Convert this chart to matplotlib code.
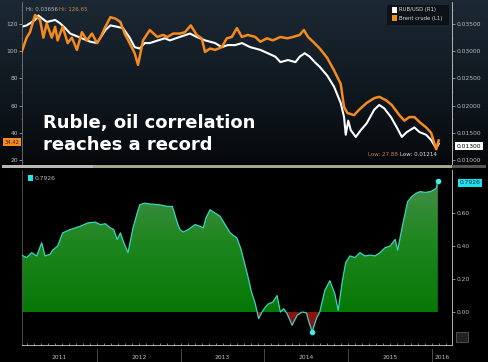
import matplotlib
matplotlib.use("Agg")
import matplotlib.pyplot as plt
import numpy as np
from matplotlib.colors import LinearSegmentedColormap
from matplotlib.patches import Rectangle
from matplotlib.path import Path

# dates as decimal years
brent_t = [2011.10, 2011.16, 2011.20, 2011.26, 2011.32, 2011.36, 2011.40, 2011.46, 2011.50, 2011.53,
           2011.59, 2011.65, 2011.70, 2011.76, 2011.82, 2011.88, 2011.94, 2012.00, 2012.04, 2012.10,
           2012.16, 2012.22, 2012.28, 2012.33, 2012.39, 2012.45, 2012.49, 2012.55, 2012.63, 2012.72,
           2012.79, 2012.84, 2012.91, 2012.99, 2013.05, 2013.12, 2013.19, 2013.25, 2013.29, 2013.35,
           2013.41, 2013.49, 2013.55, 2013.61, 2013.67, 2013.73, 2013.80, 2013.89, 2013.95, 2014.03,
           2014.10, 2014.19, 2014.27, 2014.34, 2014.42, 2014.47, 2014.52, 2014.58, 2014.66, 2014.75,
           2014.83, 2014.91, 2014.95, 2014.99, 2015.07, 2015.13, 2015.22, 2015.31, 2015.37, 2015.45,
           2015.52, 2015.61, 2015.67, 2015.73, 2015.79, 2015.85, 2015.93, 2015.99, 2016.05, 2016.08]
brent = [99.4, 110, 114, 126.65, 123, 110, 120.5, 110, 118, 108,
         118, 106, 110, 101, 114, 108, 113, 106, 110, 118,
         125, 124, 121.5, 113, 106, 98.5, 90, 108, 115.6, 110.5,
         112, 110.5, 113, 113, 114, 119, 112, 109.5, 99.5, 102,
         101, 103, 109.5, 110.5, 117, 110.5, 112, 110.5, 107, 109.5,
         108, 110.5, 109.5, 110.5, 112, 115.6, 110.5, 107, 102, 95,
         86, 76, 59, 54.6, 53, 57, 62, 65.5, 66.5, 64,
         60.5, 53, 49, 51.6, 51.6, 48, 44, 40, 27.88, 34.42]

rub_t = [2011.10, 2011.16, 2011.26, 2011.30, 2011.40, 2011.50, 2011.56, 2011.62, 2011.68, 2011.80,
         2011.92, 2012.00, 2012.10, 2012.16, 2012.24, 2012.31, 2012.39, 2012.45, 2012.51, 2012.57,
         2012.63, 2012.73, 2012.81, 2012.87, 2012.99, 2013.11, 2013.19, 2013.29, 2013.41, 2013.49,
         2013.56, 2013.65, 2013.73, 2013.83, 2013.95, 2014.04, 2014.13, 2014.19, 2014.28, 2014.37,
         2014.42, 2014.48, 2014.54, 2014.60, 2014.66, 2014.75, 2014.83, 2014.91, 2014.95, 2014.97,
         2015.00, 2015.03, 2015.09, 2015.15, 2015.22, 2015.31, 2015.37, 2015.43, 2015.51, 2015.58,
         2015.64, 2015.70, 2015.79, 2015.85, 2015.93, 2015.99, 2016.05, 2016.08]
rub = [0.0345, 0.03475, 0.03575, 0.03656, 0.03538, 0.03575, 0.03513, 0.03425, 0.03325, 0.0325,
       0.03175, 0.0315, 0.0339, 0.03475, 0.0345, 0.03425, 0.0325, 0.03075, 0.0305, 0.0315,
       0.0315, 0.032, 0.03238, 0.032, 0.03263, 0.03325, 0.03263, 0.032, 0.0315, 0.03075,
       0.03113, 0.03113, 0.0315, 0.03075, 0.03025, 0.02963, 0.029, 0.028, 0.02838, 0.028,
       0.029, 0.02963, 0.029, 0.028, 0.02713, 0.0255, 0.0235, 0.0205, 0.0179, 0.01465,
       0.01725, 0.0155, 0.01425, 0.0155, 0.01675, 0.01925, 0.02013, 0.0195, 0.0179, 0.016,
       0.01425, 0.01515, 0.016, 0.01515, 0.01465, 0.01368, 0.01214, 0.0130]

corr_t = [2011.10, 2011.16, 2011.22, 2011.28, 2011.34, 2011.38, 2011.44, 2011.47, 2011.53, 2011.59,
          2011.68, 2011.80, 2011.89, 2011.98, 2012.04, 2012.10, 2012.16, 2012.20, 2012.24, 2012.28,
          2012.32, 2012.37, 2012.43, 2012.48, 2012.51, 2012.57, 2012.63, 2012.75, 2012.84, 2012.90,
          2012.96, 2012.99, 2013.03, 2013.09, 2013.17, 2013.23, 2013.27, 2013.30, 2013.35, 2013.41,
          2013.47, 2013.53, 2013.59, 2013.64, 2013.67, 2013.72, 2013.75, 2013.80, 2013.84, 2013.89,
          2013.93, 2013.97, 2014.01, 2014.05, 2014.10, 2014.15, 2014.19, 2014.23, 2014.27, 2014.33,
          2014.39, 2014.45, 2014.50, 2014.53, 2014.57, 2014.62, 2014.66, 2014.72, 2014.78, 2014.84,
          2014.88, 2014.93, 2014.97, 2015.02, 2015.08, 2015.14, 2015.20, 2015.26, 2015.32, 2015.38,
          2015.44, 2015.50, 2015.56, 2015.59, 2015.65, 2015.71, 2015.76, 2015.81, 2015.86, 2015.92,
          2015.98, 2016.02, 2016.05, 2016.07]
corr = [0.345, 0.33, 0.36, 0.34, 0.42, 0.34, 0.35, 0.375, 0.40, 0.48,
        0.50, 0.52, 0.54, 0.545, 0.53, 0.535, 0.51, 0.50, 0.44, 0.48,
        0.42, 0.36, 0.51, 0.60, 0.65, 0.66, 0.655, 0.65, 0.64, 0.64,
        0.54, 0.50, 0.485, 0.50, 0.53, 0.52, 0.51, 0.57, 0.62, 0.60,
        0.58, 0.53, 0.48, 0.46, 0.45, 0.38, 0.32, 0.22, 0.13, 0.05,
        -0.04, 0.00, 0.03, 0.05, 0.06, 0.10, 0.00, 0.02, -0.01, -0.08,
        -0.02, 0.00, -0.005, -0.06, -0.12, -0.04, 0.00, 0.13, 0.19, 0.11,
        0.01, 0.19, 0.30, 0.34, 0.33, 0.36, 0.34, 0.345, 0.34, 0.36,
        0.39, 0.40, 0.44, 0.375, 0.53, 0.67, 0.70, 0.72, 0.73, 0.725,
        0.73, 0.74, 0.75, 0.7926]

years = [2011, 2012, 2013, 2014, 2015, 2016]

W, H = 488, 362
x0, x1 = 2011.1045, 2016.239
grey = "#bdbdbd"
orange = "#f58a1f"
teal = "#3ad6c0"

fig = plt.figure(figsize=(W / 100, H / 100), dpi=100, facecolor="black")

# top panel gradient background
bg = fig.add_axes([0, 1 - 164 / H, 1, 164 / H], zorder=-1)
bg_cmap = LinearSegmentedColormap.from_list("bg", ["#06090c", "#111a22", "#1c2833"])
bg.imshow(np.linspace(0, 1, 200).reshape(-1, 1), cmap=bg_cmap, origin="lower",
          aspect="auto", extent=[0, 1, 0, 1])
bg.axis("off")

# top panel: brent (left) and rub/usd (right)
ax1 = fig.add_axes([22 / W, 1 - 164 / H, 430 / W, 162 / H], facecolor="none")
axr = ax1.twinx()
axr.set_facecolor("none")
axr.plot(rub_t, rub, color="white", lw=1.5, zorder=2)
ax1.plot(brent_t, brent, color=orange, lw=1.8, zorder=3)
ax1.set_zorder(axr.get_zorder() + 1)
ax1.set_xlim(x0, x1)
ax1.set_ylim(17.1, 136.2)
axr.set_ylim(0.009275, 0.03905)
ax1.set_yticks([20, 40, 60, 80, 100, 120])
ax1.set_yticks(np.arange(30, 131, 20), minor=True)
axr.set_yticks([0.010, 0.015, 0.020, 0.025, 0.030, 0.035])
axr.set_yticks(np.arange(0.0125, 0.038, 0.005), minor=True)
axr.yaxis.set_major_formatter(matplotlib.ticker.FormatStrFormatter("%.5f"))
ax1.set_xticks([])
for a in (ax1, axr):
    a.tick_params(axis="y", which="major", labelsize=4.3, colors=grey, length=2, width=0.5, pad=1)
    a.tick_params(axis="y", which="minor", colors="#777777", length=1, width=0.4)
    for s in a.spines.values():
        s.set_visible(False)
ax1.spines["left"].set_visible(True)
ax1.spines["left"].set_color("#777777")
ax1.spines["left"].set_linewidth(0.6)
axr.spines["right"].set_visible(True)
axr.spines["right"].set_color("#cccccc")
axr.spines["right"].set_linewidth(0.6)

# annotations top
ax1.text(0.009, 0.951, "Hi: 0.03656", transform=ax1.transAxes, fontsize=4, color="#b8b8b8", va="center")
ax1.text(0.086, 0.951, "Hi: 126.65", transform=ax1.transAxes, fontsize=4, color="#c98a50", va="center")
ax1.text(0.874, 0.056, "Low: 27.88", transform=ax1.transAxes, fontsize=4, color="#d07a30",
         ha="right", va="center")
ax1.text(0.965, 0.056, "Low: 0.01214", transform=ax1.transAxes, fontsize=4, color="#e0e0e0",
         ha="right", va="center")
ax1.text(0.049, 0.222, "Ruble, oil correlation", transform=ax1.transAxes, fontsize=13,
         fontweight="bold", color="white", va="baseline")
ax1.text(0.049, 0.0864, "reaches a record", transform=ax1.transAxes, fontsize=13,
         fontweight="bold", color="white", va="baseline")

# legend box
ax1.add_patch(Rectangle((0.849, 0.858), 0.144, 0.123, transform=ax1.transAxes,
                        facecolor="#0c1218", edgecolor="none", zorder=4))
for yy, c, lab in [(0.951, "white", "RUB/USD (R1)"), (0.901, orange, "Brent crude (L1)")]:
    ax1.add_patch(Rectangle((0.860, yy - 0.018), 0.012, 0.036, transform=ax1.transAxes,
                            facecolor=c, edgecolor="none", zorder=5))
    ax1.text(0.877, yy, lab, transform=ax1.transAxes, fontsize=3.8, color="#dddddd",
             va="center", zorder=5)

# value tags
fig.text(12 / W, 1 - 142 / H, "34.42", fontsize=3.8, color="#3a1a00", ha="center", va="center",
         bbox=dict(boxstyle="square,pad=0.2", fc=orange, ec="none"))
fig.text(469 / W, 1 - 146 / H, "0.01300", fontsize=4.3, color="black", ha="center", va="center",
         bbox=dict(boxstyle="square,pad=0.3", fc="white", ec="none"))

# separator bar
fig.patches.append(Rectangle((2 / W, 1 - 168 / H), 450 / W, 3 / H, transform=fig.transFigure,
                             facecolor="#a6a68e", edgecolor="none"))
fig.patches.append(Rectangle((2 / W, 1 - 168 / H), 91 / W, 3 / H, transform=fig.transFigure,
                             facecolor="#b8b8b8", edgecolor="none"))
fig.patches.append(Rectangle((452 / W, 1 - 168 / H), 34 / W, 3 / H, transform=fig.transFigure,
                             facecolor="#555555", edgecolor="none"))

# bottom panel: correlation
ax2 = fig.add_axes([22 / W, 1 - 345 / H, 430 / W, 175 / H], facecolor="black")
ct = np.array(corr_t)
cv = np.array(corr)
green = ax2.fill_between(ct, 0, cv, where=cv >= 0, interpolate=True, color="none", lw=0)
g_cmap = LinearSegmentedColormap.from_list("g", ["#067806", "#1f861f", "#4a9050"])
img = ax2.imshow(np.linspace(0, 1, 200).reshape(-1, 1), cmap=g_cmap, origin="lower",
                 aspect="auto", extent=[x0, x1, 0, 0.85], zorder=1)
img.set_clip_path(Path.make_compound_path(*green.get_paths()), ax2.transData)
ax2.fill_between(ct, 0, cv, where=cv <= 0, interpolate=True, color="#8a1212", lw=0, zorder=1)
ax2.plot(ct, cv, color=teal, lw=0.9, zorder=3)
ax2.plot([corr_t[-1], corr_t[64]], [corr[-1], corr[64]], "o", color="#3ef0e8", ms=3, zorder=4)
ax2.set_xlim(x0, x1)
ax2.set_ylim(-0.2, 0.861)
ax2.yaxis.tick_right()
ax2.set_yticks([0.0, 0.2, 0.4, 0.6])
ax2.yaxis.set_major_formatter(matplotlib.ticker.FormatStrFormatter("%.2f"))
ax2.tick_params(axis="y", labelsize=4.3, colors=grey, length=2, width=0.5, pad=1)
ax2.set_xticks([])
ax2.set_xticks(np.arange(2011 + 2 / 12, 2016.2, 1 / 12), minor=True)
ax2.tick_params(axis="x", which="minor", direction="in", length=1.5, width=0.4, colors="#dddddd")
ax2.spines["top"].set_visible(False)
ax2.spines["left"].set_color("#555555")
ax2.spines["bottom"].set_color("#cccccc")
ax2.spines["right"].set_color("#cccccc")
for s in ax2.spines.values():
    s.set_linewidth(0.6)

# year labels and dividers
tr = ax2.get_xaxis_transform()
for y in years[1:]:
    ax2.plot([y, y], [-0.023, -0.097], transform=tr, color="#555555", lw=0.6, clip_on=False)
for y in years:
    lo, hi = max(y, x0), min(y + 1, x1)
    ax2.text((lo + hi) / 2, -0.069, str(y), transform=tr, fontsize=4.3, color=grey,
             ha="center", va="center")

# bottom legend and tag
fig.patches.append(Rectangle((28 / W, 1 - 181 / H), 5 / W, 6 / H, transform=fig.transFigure,
                             facecolor="#20e8f0", edgecolor="none"))
fig.text(35 / W, 1 - 178 / H, "0.7926", fontsize=4.3, color=grey, va="center")
fig.text(470 / W, 1 - 183 / H, "0.7926", fontsize=4.3, color="#0a3040", ha="center", va="center",
         bbox=dict(boxstyle="square,pad=0.3", fc="#20e0f0", ec="none"))
fig.patches.append(Rectangle((456 / W, 1 - 342 / H), 12 / W, 10 / H, transform=fig.transFigure,
                             facecolor="#222222", edgecolor="#666666", lw=0.5))

fig.savefig("out.png", dpi=100, facecolor="black")
